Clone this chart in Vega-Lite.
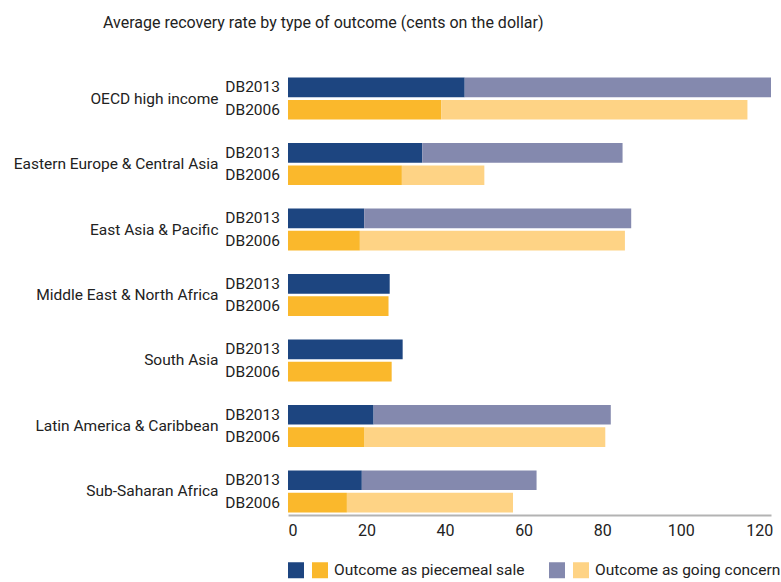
{
  "$schema": "https://vega.github.io/schema/vega-lite/v6.json",
  "width": 483,
  "height": 440,
  "autosize": {"type": "none"},
  "padding": {"left": 288, "top": 75, "right": 10, "bottom": 67},
  "background": "white",
  "title": {
    "text": "Average recovery rate by type of outcome (cents on the dollar)",
    "anchor": "start",
    "frame": "group",
    "dx": -185,
    "offset": 44,
    "fontSize": 16,
    "fontWeight": "normal",
    "color": "#222222",
    "font": "Roboto"
  },
  "data": {
    "values": [
      {"region": "OECD high income", "edition": "DB2013", "type": "Piecemeal sale", "value": 45.0},
      {"region": "OECD high income", "edition": "DB2013", "type": "Going concern", "value": 78.0},
      {"region": "OECD high income", "edition": "DB2006", "type": "Piecemeal sale", "value": 39.0},
      {"region": "OECD high income", "edition": "DB2006", "type": "Going concern", "value": 78.0},
      {"region": "Eastern Europe & Central Asia", "edition": "DB2013", "type": "Piecemeal sale", "value": 34.2},
      {"region": "Eastern Europe & Central Asia", "edition": "DB2013", "type": "Going concern", "value": 51.0},
      {"region": "Eastern Europe & Central Asia", "edition": "DB2006", "type": "Piecemeal sale", "value": 29.0},
      {"region": "Eastern Europe & Central Asia", "edition": "DB2006", "type": "Going concern", "value": 21.0},
      {"region": "East Asia & Pacific", "edition": "DB2013", "type": "Piecemeal sale", "value": 19.4},
      {"region": "East Asia & Pacific", "edition": "DB2013", "type": "Going concern", "value": 68.0},
      {"region": "East Asia & Pacific", "edition": "DB2006", "type": "Piecemeal sale", "value": 18.3},
      {"region": "East Asia & Pacific", "edition": "DB2006", "type": "Going concern", "value": 67.5},
      {"region": "Middle East & North Africa", "edition": "DB2013", "type": "Piecemeal sale", "value": 25.9},
      {"region": "Middle East & North Africa", "edition": "DB2006", "type": "Piecemeal sale", "value": 25.6},
      {"region": "South Asia", "edition": "DB2013", "type": "Piecemeal sale", "value": 29.2},
      {"region": "South Asia", "edition": "DB2006", "type": "Piecemeal sale", "value": 26.4},
      {"region": "Latin America & Caribbean", "edition": "DB2013", "type": "Piecemeal sale", "value": 21.8},
      {"region": "Latin America & Caribbean", "edition": "DB2013", "type": "Going concern", "value": 60.4},
      {"region": "Latin America & Caribbean", "edition": "DB2006", "type": "Piecemeal sale", "value": 19.5},
      {"region": "Latin America & Caribbean", "edition": "DB2006", "type": "Going concern", "value": 61.3},
      {"region": "Sub-Saharan Africa", "edition": "DB2013", "type": "Piecemeal sale", "value": 18.8},
      {"region": "Sub-Saharan Africa", "edition": "DB2013", "type": "Going concern", "value": 44.5},
      {"region": "Sub-Saharan Africa", "edition": "DB2006", "type": "Piecemeal sale", "value": 15.0},
      {"region": "Sub-Saharan Africa", "edition": "DB2006", "type": "Going concern", "value": 42.3}
    ]
  },
  "transform": [
    {
      "stack": "value",
      "groupby": ["region", "edition"],
      "sort": [{"field": "type", "order": "descending"}],
      "as": ["v0", "v1"]
    }
  ],
  "encoding": {
    "y": {
      "field": "region",
      "type": "nominal",
      "sort": ["OECD high income", "Eastern Europe & Central Asia", "East Asia & Pacific", "Middle East & North Africa", "South Asia", "Latin America & Caribbean", "Sub-Saharan Africa"],
      "scale": {"paddingInner": 0.36, "paddingOuter": 0.04},
      "axis": {
        "title": null,
        "domain": false,
        "ticks": false,
        "labelPadding": 70,
        "labelFontSize": 15.5,
        "labelColor": "#222222",
        "labelFont": "Roboto",
        "labelLimit": 300
      }
    },
    "yOffset": {
      "field": "edition",
      "type": "nominal",
      "sort": ["DB2013", "DB2006"],
      "scale": {"paddingInner": 0.12, "paddingOuter": 0}
    }
  },
  "layer": [
    {
      "transform": [{"filter": "datum.type == 'Piecemeal sale'"}],
      "mark": {"type": "bar", "cornerRadius": 0},
      "encoding": {
        "x": {
          "field": "v0",
          "type": "quantitative",
          "scale": {"domain": [0, 123], "nice": false},
          "axis": {
            "title": null,
            "values": [0, 20, 40, 60, 80, 100, 120],
            "grid": false,
            "ticks": false,
            "domainColor": "#b3b3b3",
            "domainWidth": 2,
            "labelPadding": 7,
            "labelFontSize": 16,
            "labelColor": "#222222",
            "labelFont": "Roboto"
          }
        },
        "x2": {"field": "v1"},
        "color": {
          "field": "edition",
          "type": "nominal",
          "scale": {"domain": ["DB2013", "DB2006"], "range": ["#1d4580", "#fab82c"]},
          "legend": {
            "title": null,
            "orient": "none",
            "legendX": 0,
            "legendY": 487,
            "direction": "horizontal",
            "symbolType": "square",
            "symbolSize": 256,
            "symbolStrokeWidth": 0,
            "labelOffset": 6,
            "columnPadding": 2,
            "labelFontSize": 15.5,
            "labelColor": "#222222",
            "labelFont": "Roboto",
            "labelLimit": 400,
            "labelExpr": "datum.value == 'DB2006' ? 'Outcome as piecemeal sale' : ''"
          }
        }
      }
    },
    {
      "transform": [{"filter": "datum.type == 'Going concern'"}],
      "mark": {"type": "bar", "cornerRadius": 0},
      "encoding": {
        "x": {"field": "v0", "type": "quantitative"},
        "x2": {"field": "v1"},
        "fill": {
          "field": "edition",
          "type": "nominal",
          "scale": {"domain": ["DB2006", "DB2013"], "range": ["#fed385", "#8489ae"]},
          "legend": {
            "title": null,
            "values": ["DB2013", "DB2006"],
            "orient": "none",
            "legendX": 261,
            "legendY": 487,
            "direction": "horizontal",
            "symbolType": "square",
            "symbolSize": 256,
            "symbolStrokeWidth": 0,
            "labelOffset": 6,
            "columnPadding": 2,
            "labelFontSize": 15.5,
            "labelColor": "#222222",
            "labelFont": "Roboto",
            "labelLimit": 400,
            "labelExpr": "datum.value == 'DB2006' ? 'Outcome as going concern' : ''"
          }
        }
      }
    },
    {
      "transform": [{"filter": "datum.type == 'Piecemeal sale'"}],
      "mark": {"type": "text", "align": "right", "baseline": "middle", "dx": -8, "fontSize": 15.5, "color": "#222222", "font": "Roboto"},
      "encoding": {
        "x": {"datum": 0, "type": "quantitative"},
        "text": {"field": "edition", "type": "nominal"}
      }
    }
  ],
  "config": {
    "view": {"stroke": null},
    "font": "Roboto"
  }
}
